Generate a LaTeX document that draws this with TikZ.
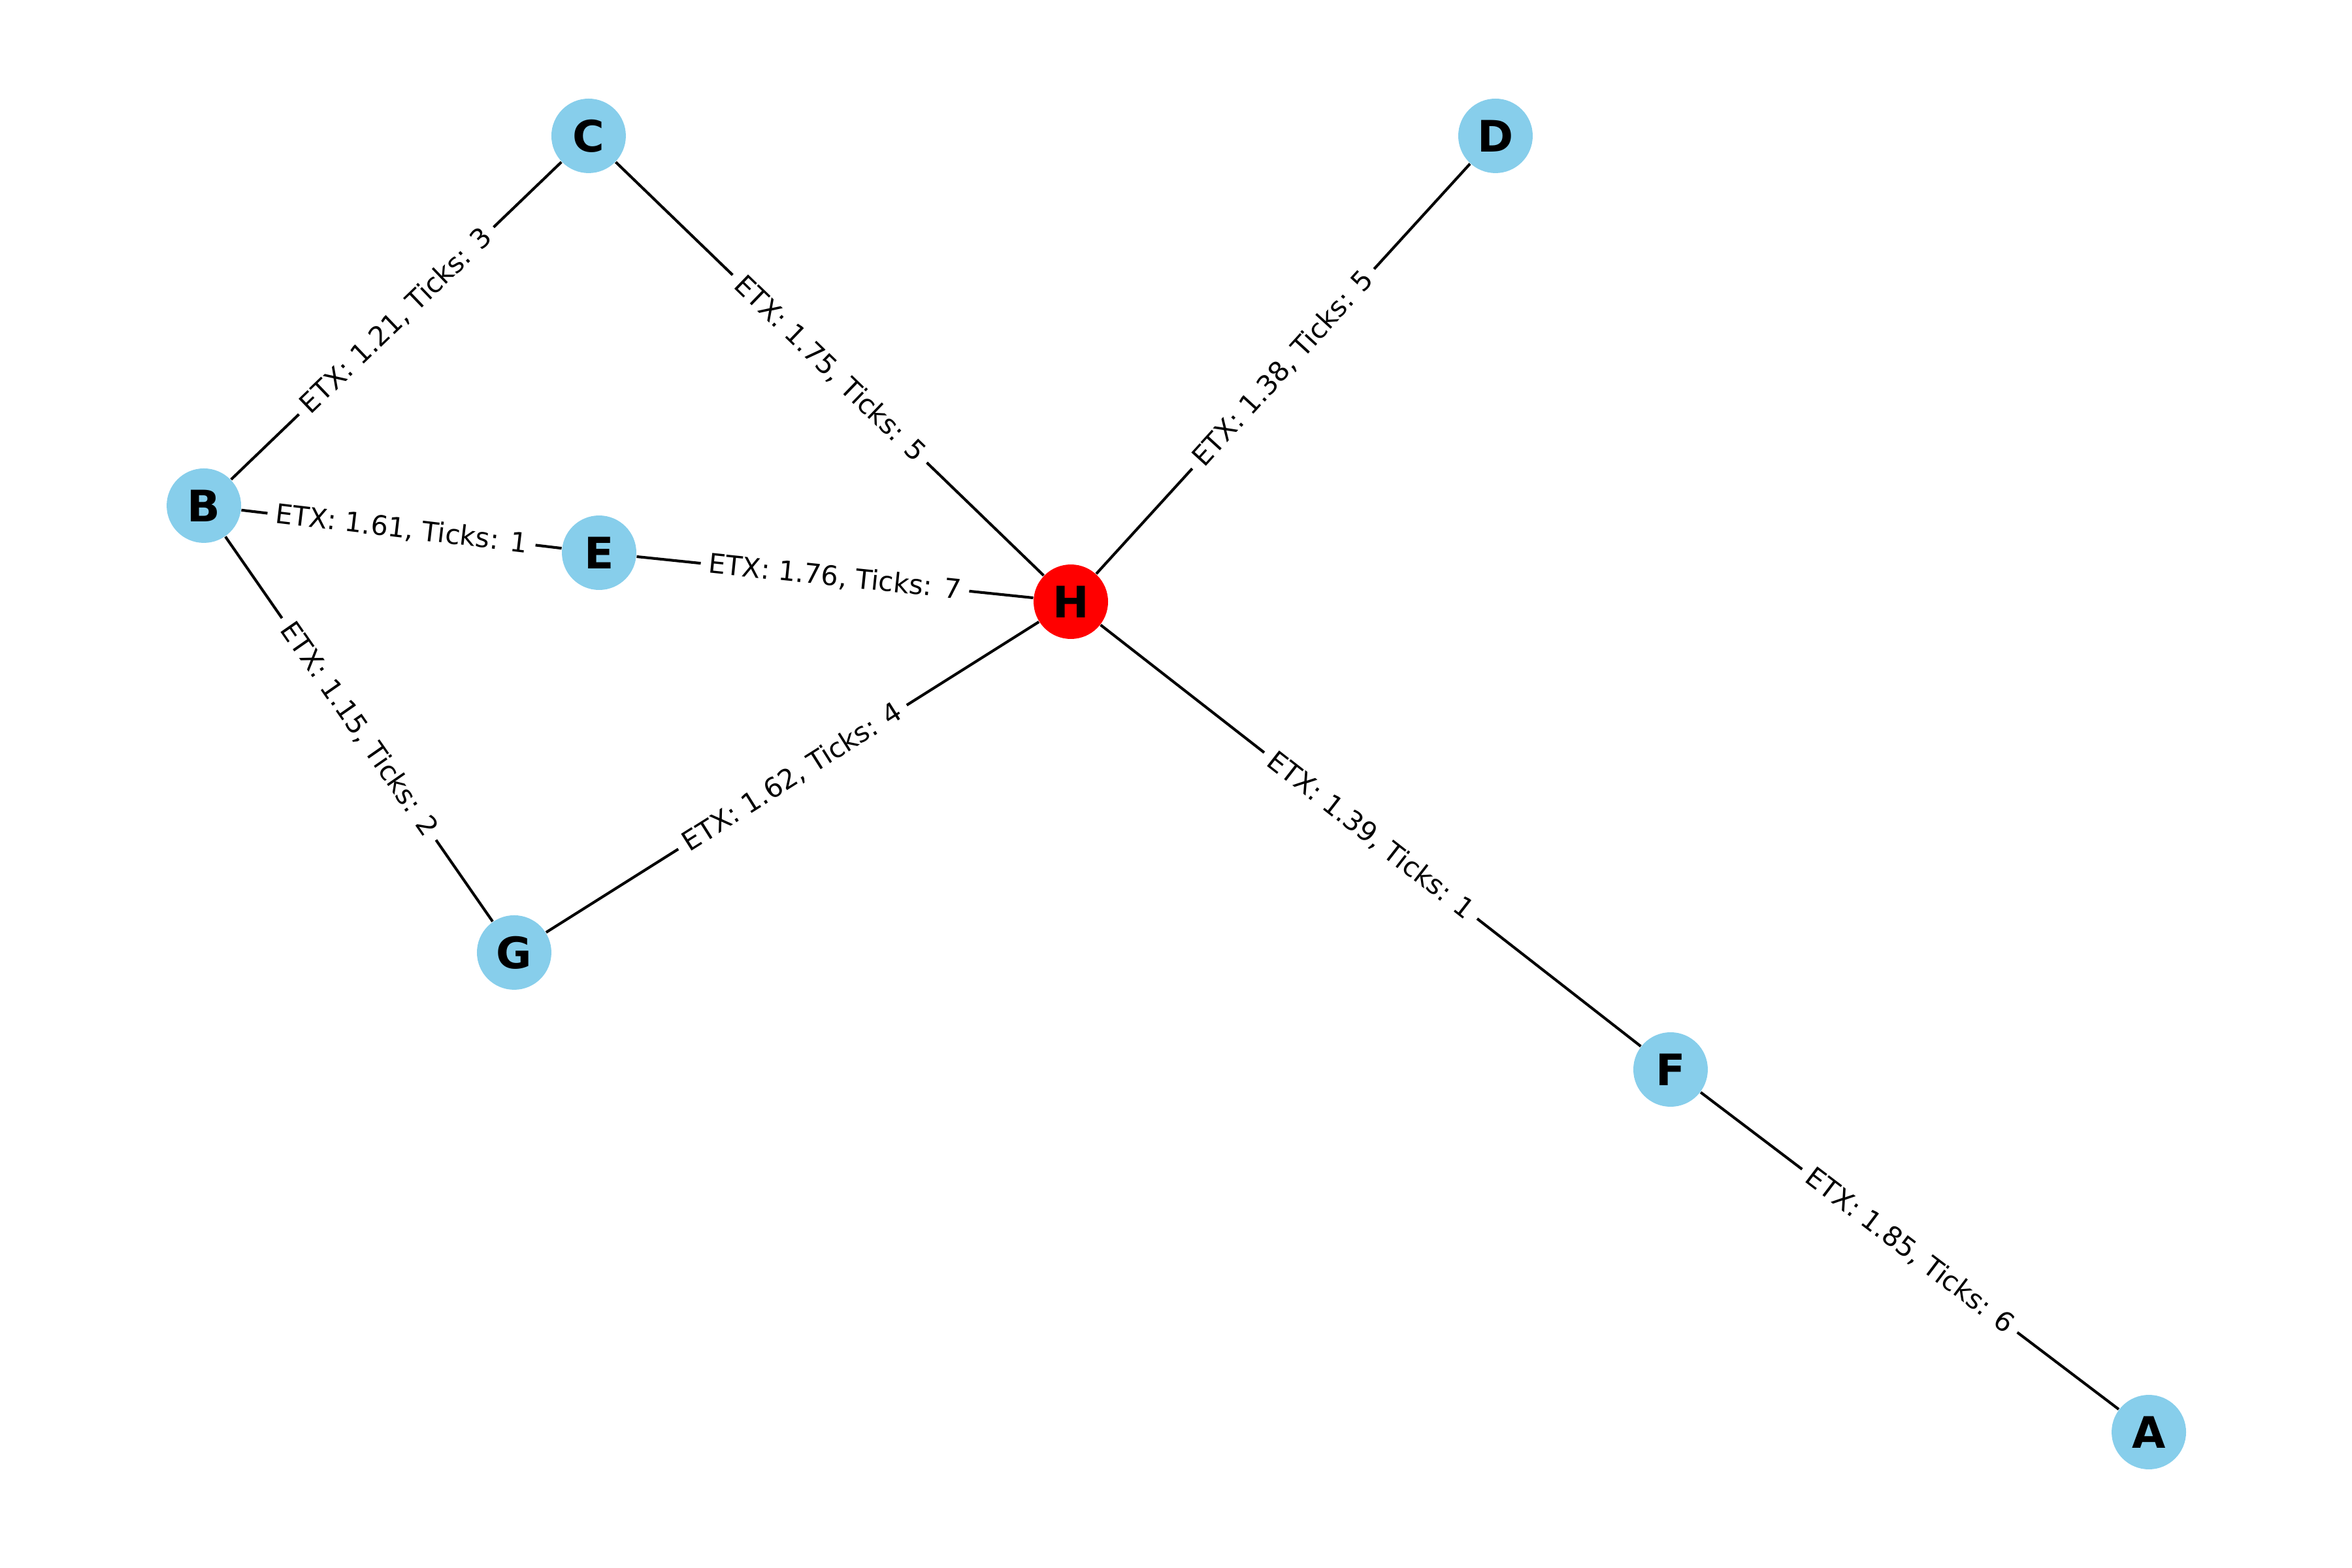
\documentclass[tikz,border=0pt]{standalone}
\usepackage{fontspec}
\setmainfont{DejaVu Sans}
\usepackage{xcolor}
\usetikzlibrary{positioning}
\definecolor{skyblue}{RGB}{135,206,235}
\definecolor{hubred}{RGB}{255,0,0}

\begin{document}
\begin{tikzpicture}[
    router/.style={circle, fill=skyblue, minimum size=0.965cm, inner sep=0pt,
        font=\fontsize{16}{19}\selectfont\bfseries},
    gateway/.style={router, fill=hubred},
    link/.style={black, line width=1pt},
    etx/.style={sloped, fill=white, inner sep=3pt, rounded corners=2pt,
        font=\fontsize{10}{12}\selectfont}
]
    % Frame
    \useasboundingbox (0,0) rectangle (30.48,20.32);

    % Routers
    \node[router] (C) at (7.628,18.559) {C};
    \node[router] (D) at (19.380,18.559) {D};
    \node[router] (B) at (2.642,13.767) {B};
    \node[router] (E) at (7.764,13.157) {E};
    \node[gateway] (H) at (13.877,12.522) {H};
    \node[router] (G) at (6.663,7.976) {G};
    \node[router] (F) at (21.649,6.460) {F};
    \node[router] (A) at (27.847,1.761) {A};

    % Links with ETX and ticks
    \draw[link] (B) -- node[etx] {ETX: 1.21, Ticks: 3} (C);
    \draw[link] (C) -- node[etx] {ETX: 1.75, Ticks: 5} (H);
    \draw[link] (H) -- node[etx] {ETX: 1.38, Ticks: 5} (D);
    \draw[link] (B) -- node[etx] {ETX: 1.61, Ticks: 1} (E);
    \draw[link] (E) -- node[etx] {ETX: 1.76, Ticks: 7} (H);
    \draw[link] (B) -- node[etx] {ETX: 1.15, Ticks: 2} (G);
    \draw[link] (G) -- node[etx] {ETX: 1.62, Ticks: 4} (H);
    \draw[link] (H) -- node[etx] {ETX: 1.39, Ticks: 1} (F);
    \draw[link] (F) -- node[etx] {ETX: 1.85, Ticks: 6} (A);
\end{tikzpicture}
\end{document}
